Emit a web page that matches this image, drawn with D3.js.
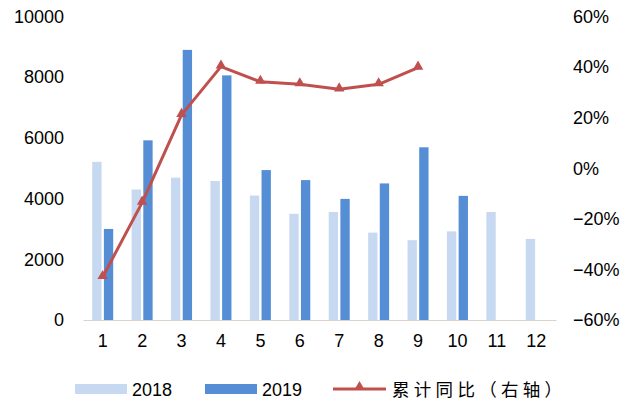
<!DOCTYPE html>
<html>
<head>
<meta charset="utf-8">
<script src="https://cdn.jsdelivr.net/npm/d3@7"></script>
<style>
  html, body { margin: 0; padding: 0; background: #fff; }
  svg text { font-family: "Liberation Sans", Arial, sans-serif; fill: #000; }
  .cjk { font-family: "Noto Sans CJK SC", sans-serif; }
</style>
</head>
<body>
<svg id="chart" width="625" height="401"></svg>
<script>
// Monthly values for two years and the cumulative year-on-year change
const months = ["1","2","3","4","5","6","7","8","9","10","11","12"];
const values2018 = [5210, 4300, 4690, 4580, 4100, 3500, 3560, 2880, 2630, 2920, 3560, 2670];
const values2019 = [3000, 5920, 8900, 8060, 4940, 4610, 3990, 4500, 5690, 4090, null, null];
const cumulativeYoY = [-0.43, -0.136, 0.211, 0.402, 0.342, 0.332, 0.312, 0.332, 0.398];
const leftTicks = [0, 2000, 4000, 6000, 8000, 10000];
const rightTicks = [-0.6, -0.4, -0.2, 0, 0.2, 0.4, 0.6];
const seriesNames = ["2018", "2019"];
const lineName = "累计同比（右轴）";

const colors = { "2018": "#c6d9f1", "2019": "#558ed5", line: "#c0504d", axis: "#d9d4cc" };

const svg = d3.select("#chart");
const plot = { left: 83, right: 556, top: 16.5, bottom: 320 };

const x = d3.scaleBand().domain(months).range([plot.left, plot.right]).padding(0);
const xInner = d3.scaleBand().domain(seriesNames).range([-10.5, 10.5]).paddingInner(0.2);
const yLeft = d3.scaleLinear().domain([0, 10000]).range([plot.bottom, plot.top]);
const yRight = d3.scaleLinear().domain([-0.6, 0.6]).range([plot.bottom, plot.top]);

// Bars
const barData = [];
months.forEach((m, i) => {
  barData.push({ m, s: "2018", v: values2018[i] });
  if (values2019[i] != null) barData.push({ m, s: "2019", v: values2019[i] });
});
svg.append("g").selectAll("rect").data(barData).join("rect")
  .attr("x", d => x(d.m) + x.bandwidth() / 2 + xInner(d.s))
  .attr("width", xInner.bandwidth())
  .attr("y", d => yLeft(d.v))
  .attr("height", d => yLeft(0) - yLeft(d.v))
  .attr("fill", d => colors[d.s]);

// Category axis
const xAxis = svg.append("g").attr("transform", `translate(0,${plot.bottom})`)
  .call(d3.axisBottom(x).tickSize(0).tickPadding(14));
xAxis.select(".domain").attr("stroke", colors.axis).attr("stroke-width", 1.2);
xAxis.selectAll("text").attr("font-size", 18).attr("fill", "#000")
  .attr("font-family", "Liberation Sans, Arial, sans-serif");

// Left value axis
const yAxisL = svg.append("g").attr("transform", `translate(64,0)`)
  .call(d3.axisLeft(yLeft).tickValues(leftTicks).tickSize(0).tickPadding(0).tickFormat(d3.format("d")));
yAxisL.select(".domain").remove();
yAxisL.selectAll("text").attr("font-size", 18).attr("fill", "#000")
  .attr("font-family", "Liberation Sans, Arial, sans-serif");

// Right percentage axis
const yAxisR = svg.append("g").attr("transform", `translate(573,0)`)
  .call(d3.axisRight(yRight).tickValues(rightTicks).tickSize(0).tickPadding(0)
    .tickFormat(d => (d < 0 ? "\u2212" : "") + Math.round(Math.abs(d) * 100) + "%"));
yAxisR.select(".domain").remove();
yAxisR.selectAll("text").attr("font-size", 18).attr("fill", "#000")
  .attr("font-family", "Liberation Sans, Arial, sans-serif");

// Cumulative YoY line with triangle markers
const lineData = cumulativeYoY.map((v, i) => ({ m: months[i], v }));
const cx = d => x(d.m) + x.bandwidth() / 2;
svg.append("path").datum(lineData)
  .attr("fill", "none").attr("stroke", colors.line).attr("stroke-width", 3)
  .attr("stroke-linejoin", "round")
  .attr("d", d3.line().x(cx).y(d => yRight(d.v)));
const tri = d3.symbol().type(d3.symbolTriangle).size(48);
svg.append("g").selectAll("path").data(lineData).join("path")
  .attr("d", tri)
  .attr("transform", d => `translate(${cx(d)},${yRight(d.v) - 1})`)
  .attr("fill", colors.line);

// Legend
const legend = svg.append("g");
const legendItems = [
  { name: seriesNames[0], sx: 75, tx: 132 },
  { name: seriesNames[1], sx: 205, tx: 262 }
];
legendItems.forEach(it => {
  legend.append("rect").attr("x", it.sx).attr("y", 384).attr("width", 52).attr("height", 10)
    .attr("fill", colors[it.name]);
  legend.append("text").attr("x", it.tx).attr("y", 395.5).attr("font-size", 18).text(it.name);
});
legend.append("line").attr("x1", 333).attr("x2", 386).attr("y1", 389).attr("y2", 389)
  .attr("stroke", colors.line).attr("stroke-width", 3);
legend.append("path").attr("d", tri).attr("transform", "translate(359.5,387)").attr("fill", colors.line);
legend.append("text").attr("class", "cjk").attr("x", 392).attr("y", 396)
  .attr("font-size", 17.5).attr("letter-spacing", 4.3).text(lineName);
</script>
</body>
</html>
